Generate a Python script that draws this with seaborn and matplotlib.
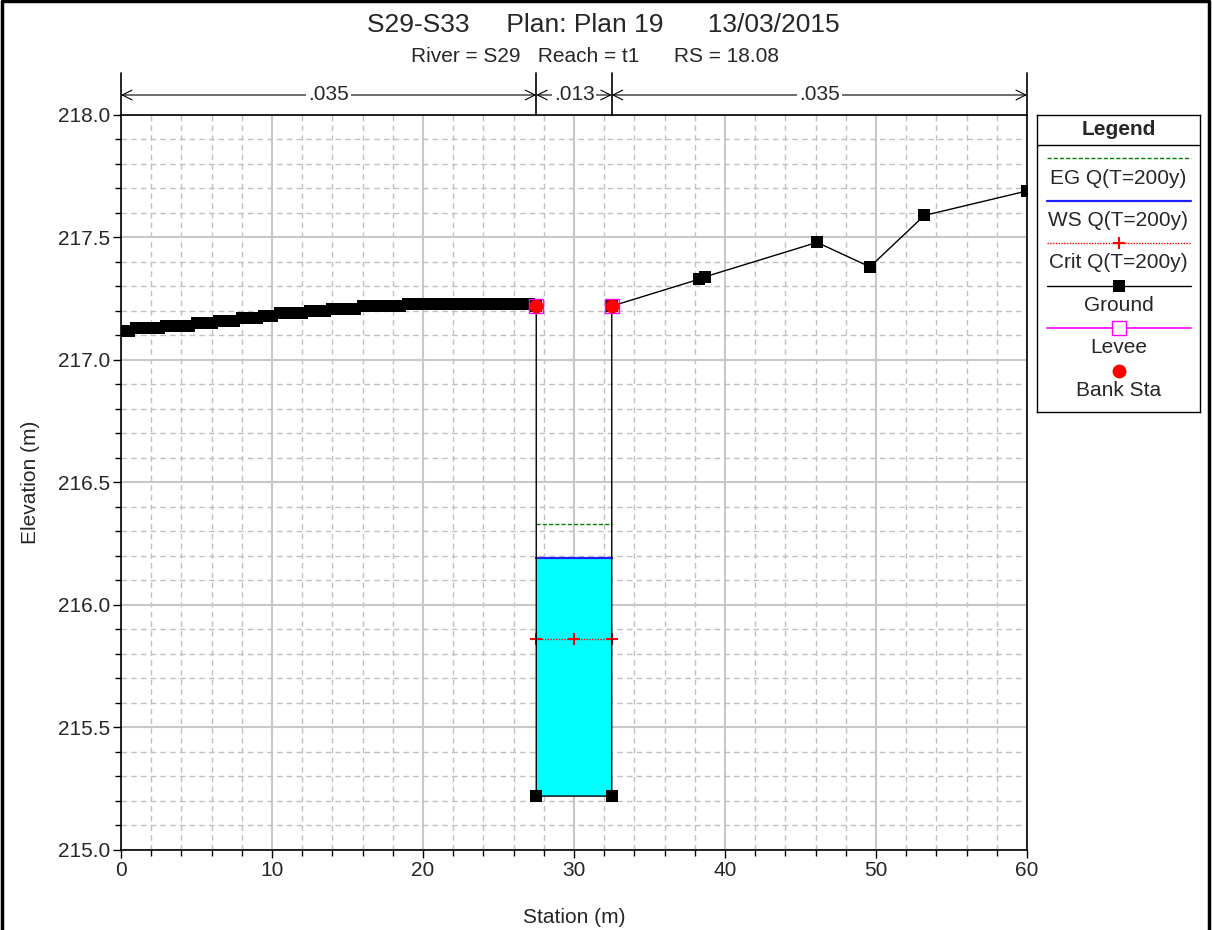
import matplotlib
matplotlib.use("Agg")
import matplotlib.pyplot as plt
import matplotlib.transforms as mtransforms
from matplotlib.lines import Line2D
from matplotlib.ticker import MultipleLocator, FormatStrFormatter
import seaborn as sns
import pandas as pd

# ---------------- data ----------------
title = "S29-S33     Plan: Plan 19      13/03/2015"
subtitle = "River = S29   Reach = t1      RS = 18.08"

ground_station = [0.0, 0.5, 1.0, 1.5, 2.0, 2.5, 3.0, 3.5, 4.0, 4.5, 5.0, 5.5, 6.0,
                  6.5, 7.0, 7.5, 8.0, 8.5, 9.0, 9.5, 10.0, 10.5, 11.0, 11.5, 12.0,
                  12.5, 13.0, 13.5, 14.0, 14.5, 15.0, 15.5, 16.0, 16.5, 17.0, 17.5,
                  18.0, 18.5, 19.0, 19.5, 20.0, 20.5, 21.0, 21.5, 22.0, 22.5, 23.0,
                  23.5, 24.0, 24.5, 25.0, 25.5, 26.0, 26.5, 27.0, 27.5,
                  27.5, 32.5, 32.5, 38.3, 38.7, 46.1, 49.6, 53.2, 60.0]
ground_elev = [217.12, 217.12, 217.13, 217.13, 217.13, 217.13, 217.14, 217.14, 217.14,
               217.14, 217.15, 217.15, 217.15, 217.16, 217.16, 217.16, 217.17, 217.17,
               217.17, 217.18, 217.18, 217.19, 217.19, 217.19, 217.19, 217.20, 217.20,
               217.20, 217.21, 217.21, 217.21, 217.21, 217.22, 217.22, 217.22, 217.22,
               217.22, 217.22, 217.23, 217.23, 217.23, 217.23, 217.23, 217.23, 217.23,
               217.23, 217.23, 217.23, 217.23, 217.23, 217.23, 217.23, 217.23, 217.23,
               217.23, 217.22,
               215.22, 215.22, 217.22, 217.33, 217.34, 217.48, 217.38, 217.59, 217.69]

bank_station = [27.5, 32.5]
bank_elev = [217.22, 217.22]
channel_bottom = 215.22
ws_elev = 216.19
eg_elev = 216.33
crit_elev = 215.86
crit_station = [27.5, 30.0, 32.5]

n_breaks = [0.0, 27.5, 32.5, 60.0]
n_values = [".035", ".013", ".035"]

legend_labels = ["EG Q(T=200y)", "WS Q(T=200y)", "Crit Q(T=200y)", "Ground", "Levee", "Bank Sta"]

# ---------------- style ----------------
sns.set_style("white")
plt.rcParams['font.family'] = ['Liberation Sans', 'DejaVu Sans']

W, H = 1212, 930
fig = plt.figure(figsize=(W / 100, H / 100), dpi=100)
ax = fig.add_axes([121 / W, 1 - 850 / H, (1027 - 121) / W, (850 - 115) / H])

ground_df = pd.DataFrame({"Station": ground_station, "Elevation": ground_elev})
bank_df = pd.DataFrame({"Station": bank_station, "Elevation": bank_elev})

# water fill
ax.fill_between(bank_station, [channel_bottom] * 2, [ws_elev] * 2,
                color="#00ffff", zorder=2, linewidth=0)

# EG, WS, Crit
sns.lineplot(x=bank_station, y=[eg_elev] * 2, ax=ax, color="#008000",
             linestyle=(0, (3, 1.5)), linewidth=1.0, zorder=3)
sns.lineplot(x=bank_station, y=[ws_elev] * 2, ax=ax, color="#2020ff",
             linewidth=1.6, zorder=3)
ax.plot(crit_station, [crit_elev] * 3, color="#ff0000",
        linestyle=(0, (1, 1)), linewidth=1.0, zorder=3)
ax.plot(crit_station, [crit_elev] * 3, color="#ff0000", linestyle="none",
        marker="+", markersize=9, markeredgewidth=1.5, zorder=4, clip_on=False)

# ground
sns.lineplot(data=ground_df, x="Station", y="Elevation", ax=ax, sort=False,
             estimator=None, color="black", linewidth=1.0, marker="s",
             markersize=8.3, markeredgewidth=0, zorder=4)

# levee & bank stations
ax.plot(bank_station, bank_elev, linestyle="none", marker="s", markersize=10.5,
        markerfacecolor="none", markeredgecolor="#ff00ff", markeredgewidth=1.0, zorder=5)
sns.scatterplot(data=bank_df, x="Station", y="Elevation", ax=ax, color="#ff0000",
                s=100, linewidth=0, zorder=6)

# axes
ax.set_xlim(0, 60)
ax.set_ylim(215.0, 218.0)
ax.xaxis.set_major_locator(MultipleLocator(10))
ax.xaxis.set_minor_locator(MultipleLocator(2))
ax.yaxis.set_major_locator(MultipleLocator(0.5))
ax.yaxis.set_minor_locator(MultipleLocator(0.1))
ax.yaxis.set_major_formatter(FormatStrFormatter("%.1f"))
ax.set_axisbelow(True)
ax.grid(which="major", color="#c8c8c8", linewidth=1.5, linestyle="-")
ax.grid(which="minor", color="#c0c0c0", linewidth=1.0, linestyle=(0, (4, 3)))
ax.tick_params(which="major", direction="out", length=6, width=1.0, color="black",
               labelsize=15, pad=2, left=True, bottom=True)
ax.tick_params(which="minor", direction="out", length=4, width=1.0, color="black",
               left=True, bottom=True)
for s in ax.spines.values():
    s.set_visible(True)
    s.set_color("black")
    s.set_linewidth(1.2)
ax.set_xlabel("Station (m)", fontsize=15, labelpad=20)
ax.set_ylabel("Elevation (m)", fontsize=15, labelpad=13)

# Manning's n annotation
trans = mtransforms.blended_transform_factory(ax.transData, ax.transAxes)
top_y = 1 + 42 / 735
arr_y = 1 + 20 / 735
for xb in n_breaks:
    ax.plot([xb, xb], [1.0, top_y], transform=trans, color="black", lw=1.2,
            clip_on=False, zorder=7)
for x0, x1, lab in zip(n_breaks[:-1], n_breaks[1:], n_values):
    ax.annotate("", xy=(x1, arr_y), xytext=(x0, arr_y), xycoords=trans,
                textcoords=trans,
                arrowprops=dict(arrowstyle="<->,head_length=0.7,head_width=0.35",
                                lw=0.8, color="black", shrinkA=0, shrinkB=0),
                annotation_clip=False)
    ax.text((x0 + x1) / 2, arr_y, lab, transform=trans, ha="center", va="center",
            fontsize=15, bbox=dict(facecolor="white", edgecolor="none", pad=1.5),
            zorder=8, clip_on=False)

# titles
fig.text(603 / W, 1 - 25 / H, title, ha="center", va="center", fontsize=19)
fig.text(595 / W, 1 - 56 / H, subtitle, ha="center", va="center", fontsize=15)

# legend box (custom, label under sample)
lax = fig.add_axes([1037 / W, 1 - 412 / H, (1200 - 1037) / W, (412 - 115) / H])
lax.set_xlim(1037, 1200)
lax.set_ylim(412, 115)
lax.set_xticks([])
lax.set_yticks([])
for s in lax.spines.values():
    s.set_visible(True)
    s.set_color("black")
    s.set_linewidth(1.0)
lax.set_facecolor("white")
lax.text(1118.5, 129, "Legend", ha="center", va="center", fontsize=15, fontweight="bold")
lax.plot([1037, 1200], [145, 145], color="black", lw=1.0)
xl = [1047, 1191]
xm = 1118.5
lax.plot(xl, [158, 158], color="#008000", linestyle=(0, (3, 1.5)), lw=1.0)
lax.plot(xl, [201, 201], color="#2020ff", lw=1.6)
lax.plot(xl, [243, 243], color="#ff0000", linestyle=(0, (1, 1)), lw=1.0)
lax.plot([xm], [243], marker="+", color="#ff0000", markersize=9, markeredgewidth=1.5)
lax.plot(xl, [286, 286], color="black", lw=1.0)
lax.plot([xm], [286], marker="s", color="black", markersize=8.3, markeredgewidth=0)
lax.plot(xl, [328, 328], color="#ff00ff", lw=1.2)
lax.plot([xm], [328], marker="s", markersize=10.5, markerfacecolor="white",
         markeredgecolor="#ff00ff", markeredgewidth=1.0)
lax.plot([xm], [371], marker="o", color="#ff0000", markersize=10, markeredgewidth=0)
for yy, lab in zip([178, 220, 262, 305, 347, 390], legend_labels):
    lax.text(xm, yy, lab, ha="center", va="center", fontsize=15)

# figure border (left, top, right)
fig.add_artist(Line2D([1.5 / W, 1.5 / W, 1 - 3.5 / W, 1 - 3.5 / W],
                      [0, 1 - 1.5 / H, 1 - 1.5 / H, 0], color="black", lw=2.5,
                      transform=fig.transFigure))

fig.savefig("out.png", dpi=100)
